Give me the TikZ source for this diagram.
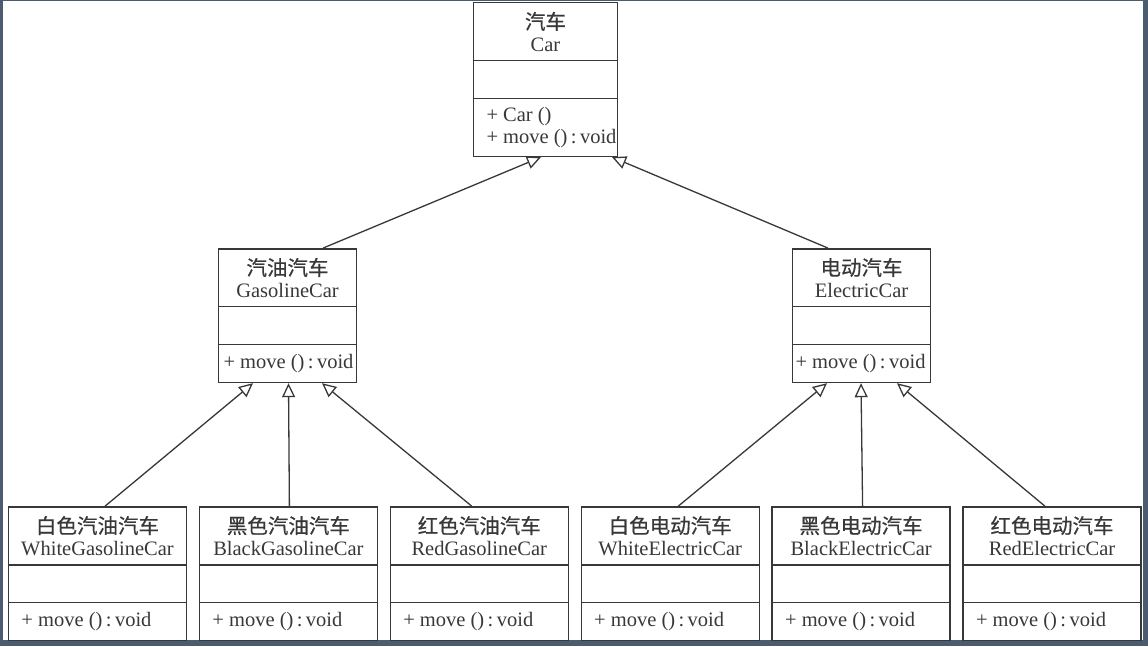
\documentclass[tikz,border=0pt]{standalone}
\usepackage{fontspec}
\setmainfont{Liberation Serif}
\newfontfamily\cjk[FakeBold=0.6]{Noto Sans CJK SC}
\usepackage{tikz}
\usetikzlibrary{shapes.multipart,positioning}
\usetikzlibrary{arrows.meta}
\definecolor{frame}{rgb}{0.29,0.36,0.43}
\definecolor{ink}  {rgb}{0.22,0.22,0.22}
\newcommand{\umltitle}[3]{\parbox[c][56.5pt][c]{#1}{\centering{\cjk\fontsize{20.5}{22}\selectfont #2}\\#3}}
\newcommand{\umlempty}[1]{\parbox[c][36.5pt][c]{#1}{\mbox{}}}
\newcommand{\umlops}[3]{\parbox[c][#2][c]{#1}{#3}}
\begin{document}
\begin{tikzpicture}[x=1pt, y=-1pt, >={Triangle[open, length=14pt, width=13pt]},
  umlclass/.style={rectangle split, rectangle split parts=3, draw=ink, line width=1.4pt,
    inner sep=0pt, text=ink, font=\fontsize{20.5}{22}\selectfont},
  inherit/.style={->, draw=ink, line width=1.3pt}]
  % screen frame
  \fill[frame] (0,0) rectangle (1148,646);
  \fill[white] (3,1) rectangle (1143,640);
  \useasboundingbox (0,0) rectangle (1148,646);

  \node (car) [umlclass, anchor=north] at (545.5,2)
    {\umltitle{144pt}{汽车}{Car}\nodepart{second}\umlempty{144pt}
     \nodepart{third}\umlops{144pt}{56.5pt}{\hspace*{13pt}+ Car ()\\\hspace*{13pt}+ move ()\,:\,void}};
  \node (gas) [umlclass, below=91pt of car, xshift=-258pt]
    {\umltitle{138pt}{汽油汽车}{GasolineCar}\nodepart{second}\umlempty{138pt}
     \nodepart{third}\umlops{138pt}{36.5pt}{\hspace*{5pt}+ move ()\,:\,void}};
  \node (elec) [umlclass, below=91pt of car, xshift=316pt]
    {\umltitle{138pt}{电动汽车}{ElectricCar}\nodepart{second}\umlempty{138pt}
     \nodepart{third}\umlops{138pt}{36.5pt}{\hspace*{3pt}+ move ()\,:\,void}};

  \node (wgas) [umlclass, below=123pt of gas, xshift=-190pt]
    {\umltitle{178pt}{白色汽油汽车}{WhiteGasolineCar}\nodepart{second}\umlempty{178pt}
     \nodepart{third}\umlops{178pt}{36.5pt}{\hspace*{13pt}+ move ()\,:\,void}};
  \node (bgas) [umlclass, right=11.5pt of wgas]
    {\umltitle{178pt}{黑色汽油汽车}{BlackGasolineCar}\nodepart{second}\umlempty{178pt}
     \nodepart{third}\umlops{178pt}{36.5pt}{\hspace*{13pt}+ move ()\,:\,void}};
  \node (rgas) [umlclass, right=11.5pt of bgas]
    {\umltitle{178pt}{红色汽油汽车}{RedGasolineCar}\nodepart{second}\umlempty{178pt}
     \nodepart{third}\umlops{178pt}{36.5pt}{\hspace*{13pt}+ move ()\,:\,void}};
  \node (welec) [umlclass, right=11.5pt of rgas]
    {\umltitle{178pt}{白色电动汽车}{WhiteElectricCar}\nodepart{second}\umlempty{178pt}
     \nodepart{third}\umlops{178pt}{36.5pt}{\hspace*{13pt}+ move ()\,:\,void}};
  \node (belec) [umlclass, right=11.5pt of welec]
    {\umltitle{178pt}{黑色电动汽车}{BlackElectricCar}\nodepart{second}\umlempty{178pt}
     \nodepart{third}\umlops{178pt}{36.5pt}{\hspace*{13pt}+ move ()\,:\,void}};
  \node (relec) [umlclass, right=11.5pt of belec]
    {\umltitle{178pt}{红色电动汽车}{RedElectricCar}\nodepart{second}\umlempty{178pt}
     \nodepart{third}\umlops{178pt}{36.5pt}{\hspace*{13pt}+ move ()\,:\,void}};

  % generalisations
  \draw[inherit] ([xshift=35.5pt]gas.north) -- ([xshift=-4.5pt]car.south);
  \draw[inherit] ([xshift=-33.5pt]elec.north) -- ([xshift=66.5pt]car.south);
  \draw[inherit] ([xshift=7.5pt]wgas.north) -- ([xshift=-34.5pt]gas.south);
  \draw[inherit] ([xshift=1pt]bgas.north) -- ([xshift=1pt]gas.south);
  \draw[inherit] ([xshift=-7.5pt]rgas.north) -- ([xshift=34.5pt]gas.south);
  \draw[inherit] ([xshift=8pt]welec.north) -- ([xshift=-34.5pt]elec.south);
  \draw[inherit] ([xshift=1.5pt]belec.north) -- ([xshift=-0.5pt]elec.south);
  \draw[inherit] ([xshift=-7pt]relec.north) -- ([xshift=35.5pt]elec.south);
\end{tikzpicture}
\end{document}
